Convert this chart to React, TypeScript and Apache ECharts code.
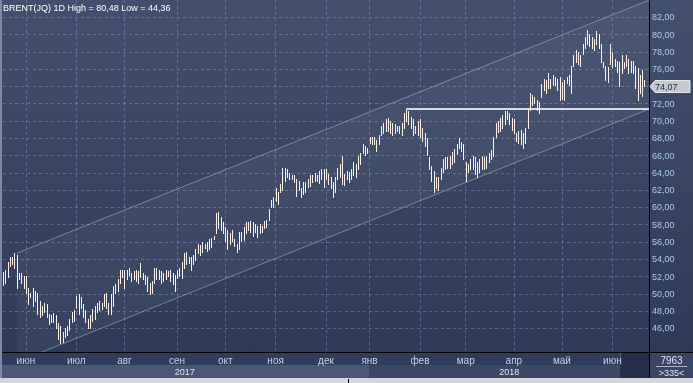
import React, { useEffect, useRef } from "react";
import * as echarts from "echarts";

const W = 693;
const H = 383;
const FONT = "'Liberation Sans', Arial, sans-serif";

const titleText = "BRENT(JQ) 1D High = 80,48 Low = 44,36";

// month name, year, number of trading-day slots
const monthSpans: [string, number, number][] = [
  ["май", 2017, 10],
  ["июн", 2017, 22],
  ["июл", 2017, 21],
  ["авг", 2017, 23],
  ["сен", 2017, 21],
  ["окт", 2017, 22],
  ["ноя", 2017, 22],
  ["дек", 2017, 19],
  ["янв", 2018, 22],
  ["фев", 2018, 20],
  ["мар", 2018, 21],
  ["апр", 2018, 21],
  ["май", 2018, 22],
  ["июн", 2018, 17],
];

const highs: number[] = [
  52.5, 52.8, 53.7, 54.3, 54.3, 54.7, 54.5, 52.4, 52.4, 52.1,
  52.1, 50.7, 50.1, 50.7, 50.3, 50.1, 49.2, 48.6, 49.0, 48.8,
  47.7, 47.5, 47.8, 47.5, 46.6, 46.3, 45.6, 46.0, 46.3, 47.1,
  47.9, 48.1, 49.8, 50.0, 49.6, 48.8, 48.1, 47.1, 47.5, 48.3,
  48.6, 49.0, 49.2, 49.0, 50.0, 50.1, 49.0, 50.0, 50.9, 51.1,
  51.7, 52.8, 52.8, 52.8, 52.8, 53.0, 52.4, 52.6, 52.8, 52.6,
  53.6, 52.4, 52.2, 51.9, 51.3, 51.5, 53.0, 53.0, 52.8, 52.6,
  52.4, 52.8, 52.6, 52.8, 52.4, 52.2, 52.8, 53.0, 53.7, 54.7,
  54.9, 54.3, 54.3, 54.5, 55.2, 55.8, 55.6, 56.0, 55.8, 56.0,
  56.4, 56.5, 56.7, 59.3, 59.5, 58.9, 58.3, 57.7, 57.4, 57.0,
  57.4, 56.4, 55.8, 57.1, 57.1, 57.7, 58.3, 58.3, 58.4, 58.3,
  58.1, 57.9, 58.1, 57.9, 58.4, 58.6, 59.8, 60.9, 61.2, 62.2,
  61.8, 62.7, 64.6, 64.6, 64.4, 64.0, 63.8, 63.8, 63.3, 63.1,
  62.2, 62.9, 62.9, 63.3, 63.7, 63.8, 64.0, 63.8, 64.2, 64.4,
  64.4, 64.4, 63.9, 63.5, 62.9, 63.5, 64.6, 65.0, 66.0, 63.9,
  64.2, 64.1, 64.4, 65.2, 65.0, 66.0, 66.3, 67.3, 67.1, 66.9,
  68.2, 68.2, 68.2, 67.8, 68.4, 69.4, 69.8, 70.2, 70.4, 70.0,
  69.8, 69.6, 69.4, 69.4, 69.8, 70.9, 71.3, 71.1, 70.5, 70.2,
  69.4, 70.0, 70.2, 69.2, 68.6, 68.0, 65.8, 64.8, 64.2, 63.5,
  63.5, 64.6, 65.6, 65.8, 65.8, 66.0, 66.4, 66.8, 67.3, 68.0,
  67.6, 67.3, 65.2, 65.0, 65.6, 66.0, 65.8, 65.2, 65.6, 66.0,
  65.8, 66.0, 66.3, 66.6, 68.1, 69.8, 70.0, 70.3, 70.7, 71.1,
  71.1, 70.9, 70.3, 70.2, 68.6, 68.8, 69.0, 68.6, 69.2, 71.5,
  73.2, 73.0, 72.8, 72.4, 72.2, 74.3, 74.9, 74.7, 75.5, 74.9,
  75.3, 75.1, 74.9, 75.1, 74.5, 74.7, 75.1, 75.3, 76.4, 77.6,
  78.2, 78.0, 77.6, 78.9, 79.7, 80.48, 80.1, 79.7, 79.5, 80.45,
  80.1, 78.9, 76.8, 76.4, 76.2, 78.9, 78.0, 77.2, 77.0, 76.8,
  77.6, 76.8, 77.6, 77.2, 77.0, 77.0, 76.4, 76.1, 75.3, 75.9,
  74.8,
];

const lows: number[] = [
  51.0, 51.3, 52.0, 53.2, 53.4, 53.0, 50.7, 51.7, 51.3, 50.7,
  50.1, 48.8, 49.6, 48.6, 49.2, 47.7, 47.3, 47.5, 47.9, 47.3,
  46.5, 46.8, 46.8, 46.0, 44.8, 44.36, 44.4, 45.0, 45.2, 45.8,
  46.8, 46.9, 48.4, 47.7, 48.4, 47.3, 46.8, 46.1, 46.0, 46.9,
  47.1, 47.9, 48.1, 48.2, 48.6, 48.4, 47.7, 47.7, 48.6, 50.1,
  50.3, 51.3, 52.0, 50.7, 51.7, 52.2, 51.5, 51.7, 51.5, 51.3,
  52.0, 51.7, 51.1, 50.3, 50.0, 50.1, 51.3, 51.7, 51.7, 51.3,
  51.5, 51.7, 52.1, 51.5, 51.1, 50.3, 51.8, 52.1, 51.8, 53.0,
  53.4, 53.6, 52.8, 53.4, 53.9, 54.7, 54.5, 54.8, 55.3, 55.0,
  55.2, 55.4, 56.3, 57.0, 57.6, 57.4, 57.0, 56.1, 55.2, 55.8,
  56.1, 55.5, 54.9, 55.2, 56.1, 56.2, 57.0, 57.4, 57.2, 56.7,
  57.2, 56.6, 57.0, 57.2, 57.6, 57.7, 58.5, 60.0, 60.0, 60.7,
  60.4, 61.8, 62.0, 63.1, 63.5, 63.3, 63.3, 62.9, 61.3, 62.0,
  61.2, 61.6, 61.8, 62.4, 62.5, 62.9, 63.1, 63.1, 62.8, 63.3,
  62.4, 63.3, 62.7, 62.2, 61.2, 61.8, 63.3, 63.5, 62.7, 62.6,
  63.3, 62.9, 63.3, 63.7, 63.5, 64.4, 65.0, 66.3, 66.1, 66.3,
  67.5, 67.3, 67.3, 66.5, 67.3, 68.4, 68.6, 68.8, 68.8, 68.6,
  68.4, 68.6, 68.8, 68.6, 68.4, 69.2, 70.0, 69.6, 69.2, 68.4,
  68.6, 68.4, 68.2, 67.7, 67.1, 66.1, 64.4, 63.1, 61.8, 62.2,
  62.0, 63.3, 64.1, 64.4, 64.6, 64.6, 65.0, 65.2, 66.2, 66.9,
  66.5, 65.6, 63.1, 64.1, 64.4, 64.4, 63.9, 63.5, 64.1, 64.4,
  64.4, 64.6, 65.2, 65.6, 66.0, 68.1, 68.7, 68.8, 69.2, 69.6,
  70.2, 69.6, 69.0, 68.6, 67.7, 67.5, 67.3, 66.9, 67.5, 69.2,
  71.3, 71.9, 72.1, 71.3, 70.9, 72.8, 73.6, 73.2, 73.8, 73.8,
  74.2, 74.2, 73.6, 72.4, 72.6, 72.4, 74.4, 74.2, 73.2, 76.4,
  76.8, 76.6, 76.4, 77.8, 78.4, 78.9, 78.7, 78.4, 78.2, 78.9,
  78.5, 76.8, 76.2, 74.7, 74.5, 76.6, 76.2, 76.4, 75.7, 74.0,
  75.5, 76.1, 76.4, 75.5, 75.7, 75.5, 73.8, 72.4, 73.2, 72.9,
  74.0,
];

const lastClose = 74.07;

// trend channel and resistance, in [bar index, price]
const channelUpper: [number, number][] = [[6, 54.7], [282, 83.98]];
const channelLower: [number, number][] = [[6, 42.1], [282, 71.38]];
const resistance: [number, number][] = [[176, 71.35], [282, 71.35]];

const yTicks: number[] = [42, 44, 46, 48, 50, 52, 54, 56, 58, 60, 62, 64, 66, 68, 70, 72, 74, 76, 78, 80, 82, 84];
const yearLabels: string[] = ["2017", "2018"];
const boxTop = "7963";
const boxBottom = ">335<";

// ---- derived structures ----
const categories: string[] = [];
const monthLabelAt: Record<number, string> = {};
const yearStartIdx: Record<number, number> = {};
(() => {
  let idx = 0;
  monthSpans.forEach(([m, y, n], k) => {
    if (k > 0) monthLabelAt[idx] = m;
    if (yearStartIdx[y] === undefined) yearStartIdx[y] = idx;
    for (let d = 1; d <= n; d++) {
      categories.push(`${m} ${y} ${d}`);
      idx++;
    }
  });
})();
const isMonthStart = (i: number) => monthLabelAt[i] !== undefined;
const barData = highs.map((h, i) => [i, h, lows[i]]);

const GRID_COLOR = "rgba(150,165,200,0.42)";
const splitColors = yTicks.map((v) => (v < 45 || v > 83 ? "rgba(0,0,0,0)" : GRID_COLOR));

export default function App() {
  const ref = useRef<HTMLDivElement>(null);

  useEffect(() => {
    if (!ref.current) return;
    const chart = echarts.init(ref.current, null, { renderer: "svg", width: W, height: H });

    const option: any = {
      animation: false,
      grid: { left: 3, right: 44, top: -4.5, bottom: 20, show: false },
      xAxis: [
        {
          type: "category",
          data: categories,
          boundaryGap: false,
          axisLine: { show: false },
          axisTick: { show: false },
          axisLabel: { show: false },
          splitLine: {
            show: true,
            interval: (i: number) => isMonthStart(i),
            lineStyle: { color: GRID_COLOR, type: [3, 3], width: 1 },
          },
        },
        {
          type: "category",
          data: categories,
          boundaryGap: false,
          position: "bottom",
          offset: -11,
          z: 10,
          axisLine: { show: false },
          axisTick: { show: false },
          splitLine: { show: false },
          axisLabel: {
            interval: (i: number) => isMonthStart(i),
            formatter: (_v: string, i: number) => monthLabelAt[i] || "",
            color: "#c6cfe2",
            fontSize: 10,
            fontFamily: FONT,
            margin: 3,
          },
        },
      ],
      yAxis: {
        type: "value",
        position: "right",
        min: 42,
        max: 84,
        interval: 2,
        axisLine: { show: true, lineStyle: { color: "#000000", width: 1 } },
        axisTick: { show: false },
        axisLabel: {
          // labels outside the visible range, and the one under the last-price tag, are not shown
          formatter: (v: number) =>
            v < 45 || v > 83 || Math.abs(v - lastClose) < 1.2 ? "" : v.toFixed(2).replace(".", ","),
          color: "#afc8f0",
          fontSize: 9,
          fontFamily: FONT,
          margin: 3,
        },
        splitLine: { show: true, lineStyle: { color: splitColors, type: [3, 3], width: 1 } },
      },
      series: [
        {
          type: "custom",
          name: "channel",
          xAxisIndex: 0,
          yAxisIndex: 0,
          clip: true,
          z: 1,
          silent: true,
          data: [[channelUpper[0][0], channelUpper[0][1]]],
          renderItem: (_p: any, api: any) => {
            const u0 = api.coord(channelUpper[0]);
            const u1 = api.coord(channelUpper[1]);
            const l0 = api.coord(channelLower[0]);
            const l1 = api.coord(channelLower[1]);
            const r0 = api.coord(resistance[0]);
            const r1 = api.coord(resistance[1]);
            const ry = Math.round(r0[1]);
            return {
              type: "group",
              children: [
                {
                  type: "polygon",
                  shape: { points: [u0, u1, l1, l0] },
                  style: { fill: "rgba(255,255,255,0.045)", stroke: "none" },
                },
                {
                  type: "line",
                  shape: { x1: u0[0], y1: u0[1], x2: u1[0], y2: u1[1] },
                  style: { stroke: "rgba(170,185,215,0.55)", lineWidth: 1 },
                },
                {
                  type: "line",
                  shape: { x1: l0[0], y1: l0[1], x2: l1[0], y2: l1[1] },
                  style: { stroke: "rgba(170,185,215,0.55)", lineWidth: 1 },
                },
                {
                  type: "line",
                  shape: { x1: r0[0], y1: ry, x2: r1[0], y2: ry },
                  style: { stroke: "#d6dae2", lineWidth: 2 },
                },
              ],
            };
          },
        },
        {
          type: "custom",
          name: "BRENT",
          xAxisIndex: 0,
          yAxisIndex: 0,
          clip: true,
          z: 3,
          data: barData,
          encode: { x: 0, y: [1, 2] },
          renderItem: (_p: any, api: any) => {
            const top = api.coord([api.value(0), api.value(1)]);
            const bot = api.coord([api.value(0), api.value(2)]);
            const x = Math.round(top[0]) + 0.5;
            return {
              type: "line",
              shape: { x1: x, y1: Math.round(top[1]), x2: x, y2: Math.round(bot[1]) + 1 },
              style: { stroke: "#fcf1ea", lineWidth: 1 },
            };
          },
        },
      ],
    };

    chart.setOption(option);

    const xJan = chart.convertToPixel({ xAxisIndex: 0 }, categories[yearStartIdx[2018]]) as number;
    const yTag = Math.round(chart.convertToPixel({ yAxisIndex: 0 }, lastClose) as number) + 0.5;
    const xRight = 649;
    const xFuture = 620;

    const bg = new echarts.graphic.LinearGradient(0, 0, 0, 1, [
      { offset: 0, color: "#43506d" },
      { offset: 1, color: "#2c3855" },
    ]);

    const graphic: any[] = [
      { type: "rect", z: -10, silent: true, shape: { x: 0, y: 0, width: W, height: H }, style: { fill: bg } },
      {
        type: "text",
        z: 20,
        x: 3,
        y: 3,
        style: { text: titleText, fill: "#ffffff", fontSize: 9, fontFamily: FONT, verticalAlign: "top" },
      },
      // bottom axis area
      { type: "rect", z: 5, shape: { x: 0, y: 353, width: xRight, height: 12 }, style: { fill: "#303c59" } },
      { type: "rect", z: 5, shape: { x: 0, y: 365, width: xJan, height: 13 }, style: { fill: "#4a5775" } },
      { type: "rect", z: 5, shape: { x: xJan, y: 365, width: xRight - xJan, height: 13 }, style: { fill: "#3b4765" } },
      { type: "rect", z: 5, shape: { x: xFuture, y: 353, width: xRight - xFuture, height: 25 }, style: { fill: "#262f48" } },
      { type: "line", z: 6, shape: { x1: xFuture + 0.5, y1: 353, x2: xFuture + 0.5, y2: 365 }, style: { stroke: "#56637f", lineWidth: 1 } },
      {
        type: "text",
        z: 11,
        x: xJan / 2,
        y: 371.5,
        style: { text: yearLabels[0], fill: "#dde3ee", fontSize: 9, fontFamily: FONT, align: "center", verticalAlign: "middle" },
      },
      {
        type: "text",
        z: 11,
        x: (xJan + xRight) / 2,
        y: 371.5,
        style: { text: yearLabels[1], fill: "#dde3ee", fontSize: 9, fontFamily: FONT, align: "center", verticalAlign: "middle" },
      },
      { type: "line", z: 12, shape: { x1: 0, y1: 352.5, x2: W, y2: 352.5 }, style: { stroke: "#000000", lineWidth: 1 } },
      { type: "line", z: 12, shape: { x1: xRight + 0.5, y1: 340, x2: xRight + 0.5, y2: 378 }, style: { stroke: "#000000", lineWidth: 1 } },
      // bottom-right box
      { type: "rect", z: 5, shape: { x: xRight + 1, y: 353, width: W - xRight - 1, height: 25 }, style: { fill: "#394562" } },
      {
        type: "text",
        z: 11,
        x: 671.5,
        y: 360,
        style: { text: boxTop, fill: "#dfe4ee", fontSize: 10, fontFamily: FONT, align: "center", verticalAlign: "middle" },
      },
      { type: "line", z: 11, shape: { x1: 656, y1: 366.5, x2: 687, y2: 366.5 }, style: { stroke: "#aeb8cc", lineWidth: 1 } },
      {
        type: "text",
        z: 11,
        x: 671.5,
        y: 372.5,
        style: { text: boxBottom, fill: "#dfe4ee", fontSize: 9, fontFamily: FONT, align: "center", verticalAlign: "middle" },
      },
      // window frame bits
      { type: "rect", z: 12, shape: { x: 0, y: 378, width: W, height: 5 }, style: { fill: "#d3d7dd" } },
      { type: "line", z: 13, shape: { x1: 348.5, y1: 379, x2: 348.5, y2: 383 }, style: { stroke: "#000000", lineWidth: 1 } },
      { type: "rect", z: 12, shape: { x: 0, y: 0, width: 2, height: 378 }, style: { fill: "#7d8aa2" } },
      // last price tag
      {
        type: "polygon",
        z: 14,
        shape: {
          points: [
            [xRight + 1, yTag],
            [xRight + 6, yTag - 6],
            [W - 3, yTag - 6],
            [W - 3, yTag + 6],
            [xRight + 6, yTag + 6],
          ],
        },
        style: { fill: "#c4c8cf", stroke: "#e6e8ec", lineWidth: 1 },
      },
      {
        type: "text",
        z: 15,
        x: xRight + 6,
        y: yTag,
        style: {
          text: lastClose.toFixed(2).replace(".", ","),
          fill: "#1c2740",
          fontSize: 9,
          fontFamily: FONT,
          verticalAlign: "middle",
        },
      },
    ];

    chart.setOption({ graphic });

    return () => {
      chart.dispose();
    };
  }, []);

  return <div ref={ref} style={{ position: "fixed", left: 0, top: 0, width: W, height: H }} />;
}
